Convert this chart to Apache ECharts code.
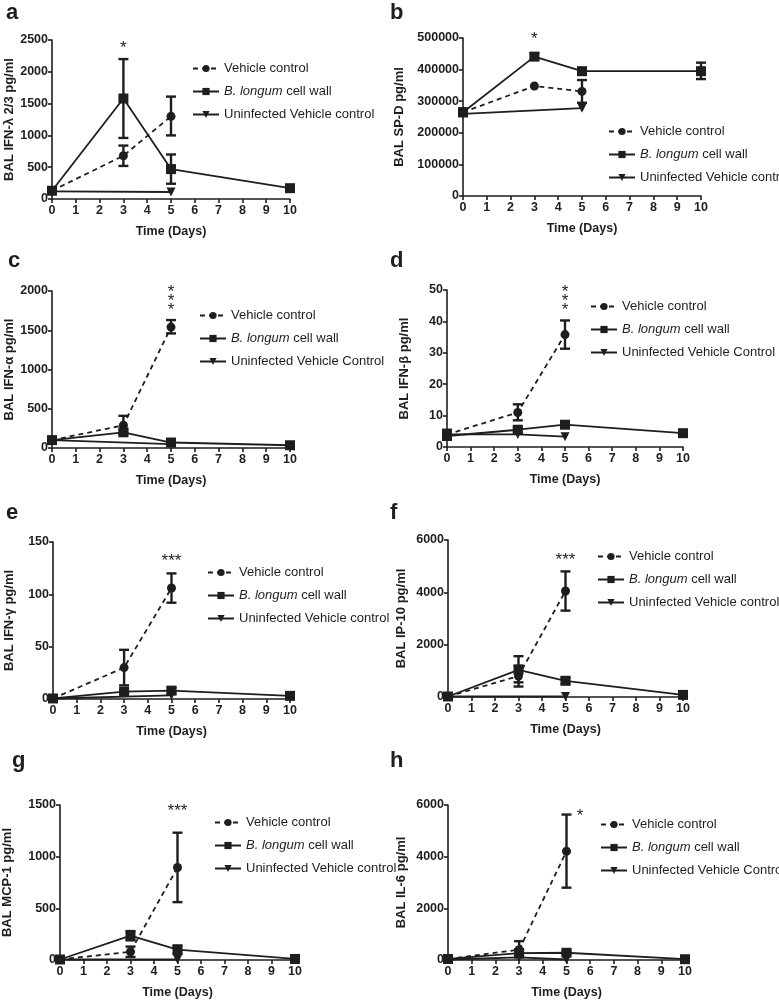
<!DOCTYPE html>
<html><head><meta charset="utf-8">
<script src="https://cdn.jsdelivr.net/npm/echarts@6/dist/echarts.min.js"></script>
<style>html,body{margin:0;padding:0;background:#fff}#c{width:779px;height:1000px}</style>
</head><body><div id="c"></div>
<script>
// ---------- DATA ----------
const xTicks = [0,1,2,3,4,5,6,7,8,9,10];
const legendNames = ['Vehicle control','B. longum cell wall','Uninfected Vehicle control'];
const legendNamesCap = ['Vehicle control','B. longum cell wall','Uninfected Vehicle Control'];

// a: IFN-lambda 2/3
const a_vehicle = [[0,130],[3,680],[5,1300]];
const a_vehicleErr = [[3,520,840],[5,1000,1610]];
const a_longum = [[0,130],[3,1580],[5,470],[10,170]];
const a_longumErr = [[3,960,2200],[5,240,700],[10,140,200]];
const a_uninf = [[0,120],[5,110]];
const a_stars = [[3,2370,'*']];

// b: SP-D
const b_vehicle = [[0,265000],[3,348000],[5,331000]];
const b_vehicleErr = [[5,295000,367000]];
const b_longum = [[0,265000],[3,441000],[5,395000],[10,395000]];
const b_longumErr = [[0,253000,277000],[3,431000,452000],[5,386000,404000],[10,370000,422000]];
const b_uninf = [[0,260000],[5,278000]];
const b_stars = [[3,497000,'*']];

// c: IFN-alpha
const c_vehicle = [[0,100],[3,290],[5,1540]];
const c_vehicleErr = [[0,70,130],[3,190,410],[5,1460,1630]];
const c_longum = [[0,100],[3,200],[5,70],[10,35]];
const c_longumErr = [[3,170,230],[5,50,90]];
const c_uninf = [[0,100],[5,50]];
const c_stars = [[5,1870,'*\n*\n*']];

// d: IFN-beta
const d_vehicle = [[0,4],[3,11],[5,35.8]];
const d_vehicleErr = [[0,2.5,5.5],[3,8.5,13.6],[5,31.3,40.3]];
const d_longum = [[0,3.5],[3,5.5],[5,7.1],[10,4.4]];
const d_longumErr = [[3,4.7,6.3],[5,6.5,7.7],[10,3.8,5]];
const d_uninf = [[0,4],[3,4],[5,3.3]];
const d_stars = [[5,46.5,'*\n*\n*']];

// e: IFN-gamma
const e_vehicle = [[0,0.5],[3,30],[5,106]];
const e_vehicleErr = [[3,13,47],[5,92,120]];
const e_longum = [[0,0.5],[3,7],[5,8],[10,3]];
const e_longumErr = [[3,5.5,8.5],[5,5,11],[10,1.5,4.5]];
const e_uninf = [[0,0.5],[5,3.5]];
const e_stars = [[5,132,'***']];

// f: IP-10
const f_vehicle = [[0,20],[3,800],[5,4050]];
const f_vehicleErr = [[3,400,1200],[5,3300,4800]];
const f_longum = [[0,20],[3,1040],[5,620],[10,80]];
const f_longumErr = [[3,560,1560],[5,500,740]];
const f_uninf = [[0,20],[5,20]];
const f_stars = [[5,5230,'***']];

// g: MCP-1
const g_vehicle = [[0,5],[3,80],[5,895]];
const g_vehicleErr = [[3,30,130],[5,560,1232]];
const g_longum = [[0,5],[3,235],[5,100],[10,10]];
const g_longumErr = [[3,190,280],[5,60,140]];
const g_uninf = [[0,5],[5,5]];
const g_stars = [[5,1440,'***']];

// h: IL-6
const h_vehicle = [[0,40],[3,400],[5,4210]];
const h_vehicleErr = [[3,100,730],[5,2800,5630]];
const h_longum = [[0,40],[3,270],[5,280],[10,30]];
const h_longumErr = [[3,150,390],[5,200,360]];
const h_uninf = [[0,20],[3,100],[5,20]];
const h_stars = [[5.57,5580,'*']];

// ---------- LAYOUT ----------
const panels = [
 {id:'a', yName:'BAL IFN-λ 2/3 pg/ml', yMax:2500, yInt:500, grid:[52,40,238,159], yGap:36, leg:[187,57], names:legendNames,
  veh:a_vehicle, vehErr:a_vehicleErr, lon:a_longum, lonErr:a_longumErr, uni:a_uninf, stars:a_stars, label:[1,-3]},
 {id:'b', yName:'BAL SP-D pg/ml', yMax:500000, yInt:100000, grid:[463,38,238,158], yGap:57, leg:[603,120], names:legendNames,
  veh:b_vehicle, vehErr:b_vehicleErr, lon:b_longum, lonErr:b_longumErr, uni:b_uninf, stars:b_stars, label:[385,-3]},
 {id:'c', yName:'BAL IFN-α pg/ml', yMax:2000, yInt:500, grid:[52,291,238,157], yGap:36, leg:[194,304], names:legendNamesCap,
  veh:c_vehicle, vehErr:c_vehicleErr, lon:c_longum, lonErr:c_longumErr, uni:c_uninf, stars:c_stars, label:[3,245]},
 {id:'d', yName:'BAL IFN-β pg/ml', yMax:50, yInt:10, grid:[447,290,236,157], yGap:36, leg:[585,295], names:legendNamesCap,
  veh:d_vehicle, vehErr:d_vehicleErr, lon:d_longum, lonErr:d_longumErr, uni:d_uninf, stars:d_stars, label:[385,245]},
 {id:'e', yName:'BAL IFN-γ pg/ml', yMax:150, yInt:50, grid:[53,542,237,157], yGap:37, leg:[202,561], names:legendNames,
  veh:e_vehicle, vehErr:e_vehicleErr, lon:e_longum, lonErr:e_longumErr, uni:e_uninf, stars:e_stars, label:[1,497]},
 {id:'f', yName:'BAL IP-10 pg/ml', yMax:6000, yInt:2000, grid:[448,540,235,157], yGap:40, leg:[592,545], names:legendNames,
  veh:f_vehicle, vehErr:f_vehicleErr, lon:f_longum, lonErr:f_longumErr, uni:f_uninf, stars:f_stars, label:[385,497]},
 {id:'g', yName:'BAL MCP-1 pg/ml', yMax:1500, yInt:500, grid:[58,805,237,158], yGap:46, leg:[209,811], names:legendNames,
  veh:g_vehicle, vehErr:g_vehicleErr, lon:g_longum, lonErr:g_longumErr, uni:g_uninf, stars:g_stars, label:[7,745]},
 {id:'h', yName:'BAL IL-6 pg/ml', yMax:6000, yInt:2000, grid:[448,805,237,158], yGap:40, leg:[595,813], names:legendNamesCap,
  veh:h_vehicle, vehErr:h_vehicleErr, lon:h_longum, lonErr:h_longumErr, uni:h_uninf, stars:h_stars, label:[385,745]}
];

const INK = '#1e1e1e';
const FONT = '"Liberation Sans", Arial, sans-serif';

const grids=[], xAxes=[], yAxes=[], series=[], legends=[], titles=[];

function errRender(params, api){
  const x = api.value(0), lo = api.value(1), hi = api.value(2);
  const p1 = api.coord([x, lo]), p2 = api.coord([x, hi]);
  const w = 5;
  const st = {stroke: INK, lineWidth: 2.4};
  return {type:'group', children:[
    {type:'line', shape:{x1:p1[0],y1:p1[1],x2:p2[0],y2:p2[1]}, style:st},
    {type:'line', shape:{x1:p1[0]-w,y1:p1[1],x2:p1[0]+w,y2:p1[1]}, style:st},
    {type:'line', shape:{x1:p2[0]-w,y1:p2[1],x2:p2[0]+w,y2:p2[1]}, style:st}
  ]};
}
function starRender(params, api, texts){
  const p = api.coord([api.value(0), api.value(1)]);
  const txt = texts[params.dataIndex];
  const multi = txt.indexOf('\n') >= 0;
  return {type:'text', style:{text: txt, x:p[0], y:p[1], align:'center', verticalAlign:'middle',
    fill: INK, font: '17px ' + FONT, lineHeight: multi ? 9 : 17}};
}

panels.forEach((p, i) => {
  grids.push({left:p.grid[0], top:p.grid[1], width:p.grid[2], height:p.grid[3]});
  xAxes.push({gridIndex:i, type:'value', min:0, max:10, interval:1,
    name:'Time (Days)', nameLocation:'middle', nameGap:26,
    nameTextStyle:{fontFamily:FONT, fontWeight:'bold', fontSize:12.5, color:INK},
    axisLine:{lineStyle:{color:INK, width:1.6}}, axisTick:{length:4, lineStyle:{color:INK, width:1.6}},
    axisLabel:{fontFamily:FONT, fontWeight:'bold', fontSize:12.5, color:INK, margin:5,
      formatter: v => xTicks.includes(v) ? String(v) : ''},
    splitLine:{show:false}});
  yAxes.push({gridIndex:i, type:'value', min:0, max:p.yMax, interval:p.yInt,
    name:p.yName, nameLocation:'middle', nameGap:p.yGap,
    nameTextStyle:{fontFamily:FONT, fontWeight:'bold', fontSize:13, color:INK},
    axisLine:{show:true, lineStyle:{color:INK, width:1.6}}, axisTick:{show:true, length:4, lineStyle:{color:INK, width:1.6}},
    axisLabel:{fontFamily:FONT, fontWeight:'bold', fontSize:12.5, color:INK, margin:4, formatter: v => String(v)},
    splitLine:{show:false}});
  const common = {xAxisIndex:i, yAxisIndex:i, color:INK, animation:false, z:3};
  series.push(Object.assign({type:'line', name:p.names[0], data:p.veh, symbol:'circle', symbolSize:9,
    lineStyle:{type:[5,4], width:1.8, color:INK}, itemStyle:{color:INK}}, common));
  series.push(Object.assign({type:'line', name:p.names[1], data:p.lon, symbol:'rect', symbolSize:10,
    lineStyle:{type:'solid', width:1.8, color:INK}, itemStyle:{color:INK}}, common));
  series.push(Object.assign({type:'line', name:p.names[2], data:p.uni, symbol:'triangle', symbolRotate:180, symbolSize:9,
    lineStyle:{type:'solid', width:1.8, color:INK}, itemStyle:{color:INK}}, common));
  series.push({type:'custom', name:'err-v-'+p.id, xAxisIndex:i, yAxisIndex:i, data:p.vehErr, renderItem:errRender,
    encode:{x:0, y:[1,2]}, animation:false, z:4, silent:true});
  series.push({type:'custom', name:'err-l-'+p.id, xAxisIndex:i, yAxisIndex:i, data:p.lonErr, renderItem:errRender,
    encode:{x:0, y:[1,2]}, animation:false, z:4, silent:true});
  const texts = p.stars.map(s => s[2]);
  series.push({type:'custom', name:'stars-'+p.id, xAxisIndex:i, yAxisIndex:i,
    data:p.stars.map(s => [s[0], s[1]]),
    renderItem:(params, api) => starRender(params, api, texts),
    encode:{x:0, y:1}, animation:false, z:5, silent:true});
  legends.push({left:p.leg[0], top:p.leg[1], orient:'vertical', data:p.names.slice(), itemWidth:26, itemHeight:9, itemGap:10,
    selectedMode:false,
    textStyle:{fontFamily:FONT, fontSize:13, color:INK, rich:{i:{fontFamily:FONT, fontSize:13, fontStyle:'italic', color:INK}}},
    formatter: n => n.indexOf('B. longum') === 0 ? '{i|B. longum} cell wall' : n});
  titles.push({text:p.id, left:p.label[0], top:p.label[1], textStyle:{fontFamily:FONT, fontWeight:'bold', fontSize:22, color:INK}});
});

const chart = echarts.init(document.getElementById('c'), null, {renderer:'canvas'});
chart.setOption({backgroundColor:'#fff', animation:false, title:titles, grid:grids, xAxis:xAxes, yAxis:yAxes, legend:legends, series:series});
</script></body></html>
